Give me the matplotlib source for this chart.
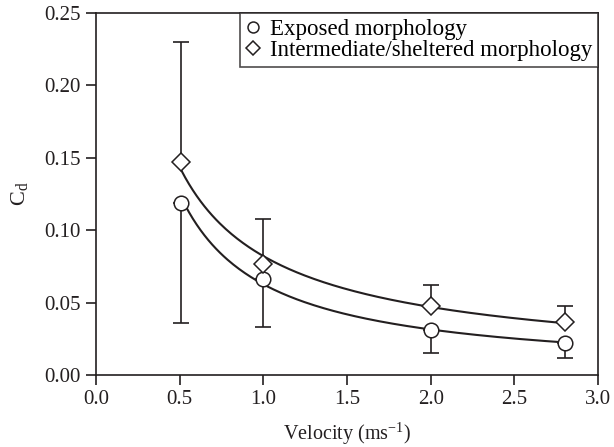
import numpy as np
import matplotlib
matplotlib.use("Agg")
import matplotlib.pyplot as plt

# Exposed morphology
vel_exp = [0.51, 1.0, 2.0, 2.8]
cd_exp = [0.119, 0.066, 0.031, 0.0223]
err_exp_low = [0.083, 0.033, 0.0156, 0.0108]

# Intermediate/sheltered morphology
vel_int = [0.51, 1.0, 2.0, 2.8]
cd_int = [0.147, 0.0765, 0.0478, 0.0363]
err_int_high = [0.083, 0.031, 0.0147, 0.0111]

x_ticks = [0.0, 0.5, 1.0, 1.5, 2.0, 2.5, 3.0]
y_ticks = [0.00, 0.05, 0.10, 0.15, 0.20, 0.25]

plt.rcParams["font.family"] = ["Liberation Serif", "DejaVu Serif"]
plt.rcParams["mathtext.fontset"] = "custom"
plt.rcParams["mathtext.rm"] = "Liberation Serif"
plt.rcParams["mathtext.it"] = "Liberation Serif:italic"

fig = plt.figure(figsize=(6.14, 4.47), dpi=100)
ax = fig.add_axes([96 / 614, 1 - 375 / 447, (598 - 96) / 614, (375 - 13) / 447])


def power_fit(x, y):
    # trend line: least squares power law fitted to the points
    b, lna = np.polyfit(np.log(x), np.log(y), 1)
    xs = np.linspace(min(x), max(x), 200)
    return xs, np.exp(lna) * xs ** b


for vx, vy in [(vel_exp, cd_exp), (vel_int, cd_int)]:
    xs, ys = power_fit(vx, vy)
    ax.plot(xs, ys, color="#231f20", lw=1.5, zorder=2)

# exposed only shows the lower bar, intermediate only the upper one
zeros = [0] * len(vel_exp)
ax.errorbar(vel_exp, cd_exp, yerr=[err_exp_low, zeros], fmt="none",
            ecolor="#231f20", elinewidth=1.2, capsize=6, capthick=1.2, zorder=1)
ax.errorbar(vel_int, cd_int, yerr=[zeros, err_int_high], fmt="none",
            ecolor="#231f20", elinewidth=1.2, capsize=6, capthick=1.2, zorder=1)

ax.plot(vel_exp, cd_exp, linestyle="none", marker="o", ms=10.5, mfc="white",
        mec="#231f20", mew=1.1, zorder=3, label="Exposed morphology")
ax.plot(vel_int, cd_int, linestyle="none", marker="D", ms=9.5, mfc="white",
        mec="#231f20", mew=1.1, zorder=3, label="Intermediate/sheltered morphology")

ax.set_xlim(0, 3.0)
ax.set_ylim(0, 0.25)
ax.set_xticks(x_ticks)
ax.set_xticklabels([f"{t:.1f}" for t in x_ticks])
ax.set_yticks(y_ticks)
ax.set_yticklabels([f"{t:.2f}" for t in y_ticks])
ax.tick_params(direction="out", length=7, width=1.2, labelsize=15,
               colors="#231f20", pad=4)
for s in ax.spines.values():
    s.set_linewidth(1.2)
    s.set_color("#231f20")

ax.set_xlabel("Velocity (ms$^{-1}$)", fontsize=14.5, color="#231f20", labelpad=8)
ax.set_ylabel("C$_\\mathrm{d}$", fontsize=16, color="#231f20", labelpad=10)

leg = ax.legend(loc="upper right", borderaxespad=0, fontsize=16.5, frameon=True,
                fancybox=False, edgecolor="#231f20", markerscale=0.75,
                handlelength=0.6, handletextpad=0.45, borderpad=0.25,
                labelspacing=0.0)
leg.get_frame().set_linewidth(1.2)

fig.savefig("out.png", dpi=100)
